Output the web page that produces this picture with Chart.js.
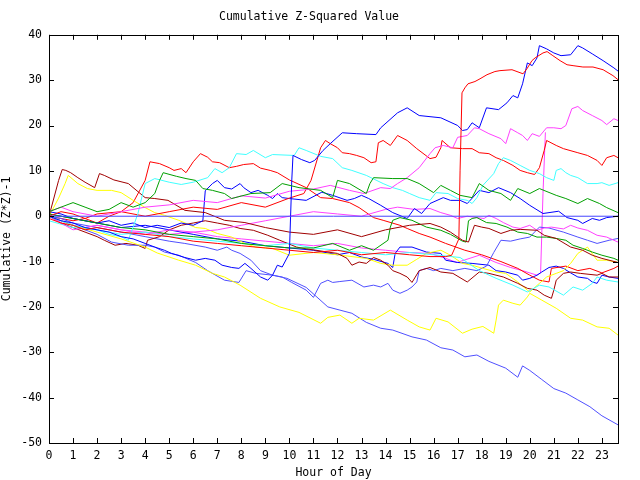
<!DOCTYPE html>
<html>
<head>
<meta charset="utf-8">
<script src="https://cdn.jsdelivr.net/npm/chart.js@4.4.0/dist/chart.umd.min.js"></script>
<style>
  html, body { margin: 0; padding: 0; background: #fff; }
  #wrap { width: 640px; height: 480px; }
</style>
</head>
<body>
<div id="wrap"><canvas id="chart" width="640" height="480"></canvas></div>
<script>
// axis setup
const xMax = 23.67;
const yTicks = [40, 30, 20, 10, 0, -10, -20, -30, -40, -50];
const hourTicks = [0,1,2,3,4,5,6,7,8,9,10,11,12,13,14,15,16,17,18,19,20,21,22,23];

// series, [hour, value]
const blueA = [[0,0],[0.5,-1],[1,-1.5],[1.5,-2.5],[2,-3],[2.5,-3.5],[3,-4.5],[3.5,-5],[4,-6],[4.4,-6.8],[4.8,-7.5],[5.1,-8.2],[5.65,-9.1],[6.1,-9.7],[6.5,-9.3],[6.9,-9.7],[7.2,-10.8],[7.6,-11.3],[7.9,-11.5],[8.15,-10.4],[8.4,-11.5],[8.8,-13.4],[9.1,-14.1],[9.3,-13],[9.5,-10.8],[9.7,-11.2],[10,-8.2],[10.05,0],[10.1,8],[10.15,13.4],[10.5,12.5],[10.85,11.8],[11.05,12.3],[11.4,14.5],[11.7,16],[12.2,18.4],[12.8,18.2],[13.6,18],[13.8,19.5],[14.5,22.8],[14.9,23.9],[15.4,22.2],[16.3,21.7],[17,20],[17.2,18.9],[17.4,19.1],[17.6,20.6],[17.9,19.5],[18.2,23.9],[18.7,23.5],[19.05,25],[19.3,26.6],[19.5,26.1],[19.7,29.2],[19.9,33.8],[20.1,33.2],[20.3,34.9],[20.4,37.6],[20.7,36.9],[21,36],[21.3,35.4],[21.7,35.6],[22,37.6],[22.2,37.1],[22.6,35.8],[23.05,34.3],[23.5,32.7],[23.67,32]];
const redA = [[0,-0.5],[0.5,-1.5],[1,-2],[1.5,-3],[2,-2.5],[3,-3.5],[4,-4],[5,-4.5],[6,-5.5],[7,-6],[8,-6.5],[9,-7],[10,-7.5],[11,-8],[12,-7.5],[13,-8.5],[14,-8],[15,-8.5],[15.85,-8.9],[16.5,-8.9],[16.75,-8.6],[17.05,-5],[17.1,10],[17.18,27.2],[17.3,28.3],[17.43,29.2],[17.72,29.7],[17.93,30.3],[18.22,31.2],[18.55,31.9],[18.76,32.1],[19.26,32.3],[19.72,31.4],[19.88,32.5],[20.09,34.3],[20.22,34.9],[20.55,36],[20.72,36.3],[20.96,35.4],[21.26,34.3],[21.55,33.4],[21.8,33.2],[22.21,32.9],[22.63,32.9],[23.05,32.3],[23.46,31],[23.67,30.1]];
const magentaA = [[0,1],[0.5,2],[1,1],[2,0],[3,1],[4,2],[5,2.5],[6,3.5],[7,3],[8,4.5],[9,4],[10,5.5],[11,6],[11.7,6.8],[12.5,5.7],[13.1,5],[13.8,6.3],[14.2,6.1],[14.5,7.2],[14.9,8.5],[15.4,10.7],[15.85,13.8],[16.06,15.1],[16.4,15.6],[16.8,15.1],[17,17.4],[17.4,17.8],[17.7,19.5],[17.9,19.3],[18.3,18.2],[18.8,17.1],[19,16],[19.2,19.3],[19.5,18.4],[19.7,17.8],[19.9,16.7],[20.1,18.2],[20.4,17.6],[20.7,19.5],[21,19.5],[21.3,19.3],[21.5,20],[21.75,23.7],[22,24.2],[22.2,23.3],[22.6,22.2],[23,21.1],[23.2,20.2],[23.5,21.5],[23.67,21.1]];
const magentaC = [[0,0],[0.5,-1],[1,-2],[1.5,-2.5],[2,-2],[3,-3],[4,-3.5],[5,-4],[6,-3.5],[7,-4.5],[8,-5],[9,-5.5],[10,-6],[11,-6.5],[12,-6],[13,-7],[14,-7.5],[15,-8],[15.85,-8.2],[16.4,-9.1],[16.97,-10.2],[17.9,-8.6],[18.6,-10.2],[19.2,-11.3],[19.7,-12],[20.3,-13],[20.45,-12.5],[20.55,5],[20.65,18.5]];
const redB = [[0,0],[0.5,1],[1,0.5],[1.5,-0.5],[2,0.5],[3,1],[4,0],[5,1],[6,2],[7,1.5],[8,3],[9,2],[10,4],[10.6,5],[10.9,7.9],[11.3,15.1],[11.5,16.7],[11.7,16],[12,15.1],[12.2,14],[12.5,13.8],[12.8,13.4],[13.1,12.9],[13.4,11.8],[13.6,12],[13.7,16.2],[13.9,16.7],[14.2,15.6],[14.5,17.8],[14.9,16.7],[15.3,14.9],[15.85,12.7],[16.1,13],[16.3,15.1],[16.35,16.7],[16.7,15.1],[17.2,14.9],[17.6,14.9],[17.9,14],[18.3,13.8],[18.6,12.9],[18.9,12.3],[19.3,11.2],[19.6,10.1],[19.9,9.6],[20.2,9.2],[20.4,10.7],[20.6,14.5],[20.7,16.7],[21.1,15.6],[21.4,14.9],[22,14],[22.4,13.4],[22.8,12.3],[23,11.2],[23.2,12.9],[23.5,13.4],[23.67,12.9]];
const redX = [[0,0],[0.5,-0.5],[1,-1],[1.5,-0.5],[2,-1.5],[2.5,0],[3,1],[3.5,3],[4,7.9],[4.2,12],[4.6,11.6],[5,10.7],[5.2,10.1],[5.5,10.5],[5.7,9.6],[6,12],[6.3,13.8],[6.6,13],[6.8,12],[7.1,11.8],[7.5,10.7],[7.8,11],[8.1,11.4],[8.5,11.6],[8.8,10.6],[9.2,10.1],[9.5,9.6],[10,8],[10.7,6.3],[11.3,4.1],[11.8,3.9],[12.5,3],[12.9,1.9],[13.5,-0.3],[13.9,-0.9],[14.6,-2],[14.9,-2.7],[15.4,-3.8],[15.85,-4.6],[16.5,-6],[17.3,-7.5],[18,-8.5],[18.8,-10],[19.5,-11.5],[20,-13],[20.4,-14.1],[20.8,-14.5],[20.9,-11.5],[21.5,-11],[22,-12],[22.5,-11.5],[23,-12.5],[23.5,-11.5],[23.67,-11]];
const cyanA = [[0,0],[0.5,-1],[1,-2],[1.5,-2.5],[2,-3],[2.5,-4],[3,-4.5],[3.3,-5.3],[3.7,0.6],[4,7.2],[4.4,8.3],[5,7.5],[5.5,7],[6,7.5],[6.6,8.5],[6.9,10.5],[7.2,9.6],[7.5,10.7],[7.8,13.8],[8.2,13.6],[8.5,14.5],[9,12.9],[9.3,13.6],[10.2,13.4],[10.4,15.1],[10.7,14.5],[11.3,13.2],[11.8,12.7],[12.2,10.7],[12.6,10.1],[13.2,9],[13.9,7.2],[14.3,6.3],[14.7,5.7],[15,5],[15.4,4.1],[15.85,3.5],[16.1,5.2],[16.6,5],[17,3.9],[17.4,3.5],[17.6,2.8],[17.8,4.1],[18.05,6.8],[18.5,9.4],[18.7,11.6],[18.9,12.9],[19.2,12.3],[19.6,11.2],[20,10.1],[20.4,9.4],[20.7,8.5],[21,7.9],[21.1,10.1],[21.3,10.5],[21.5,9.6],[21.7,9],[22,8.5],[22.4,7.2],[22.8,7.2],[23,7.4],[23.3,6.8],[23.67,7.4]];
const greenA = [[0,1],[0.5,2],[1,3],[1.5,2],[2,1],[2.5,1.5],[3,3],[3.5,2],[4,3],[4.4,5],[4.6,7.9],[4.75,9.6],[5.3,8.8],[5.7,8.3],[6.1,7.9],[6.4,6.1],[6.8,5.7],[7.3,5],[7.6,3.9],[8.4,5],[9.2,5.2],[9.7,7.2],[10.4,6.3],[11.3,5.7],[11.8,4.1],[12,7.9],[12.5,7.2],[13.2,5],[13.35,7.2],[13.5,8.5],[14.3,8.3],[14.9,8.3],[15.4,7.2],[16,5.2],[16.3,6.8],[16.7,5.7],[17.1,4.6],[17.6,4.1],[17.9,7.2],[18.3,5.7],[18.8,5],[19.2,3.5],[19.5,6.1],[20,5],[20.4,6.1],[21.1,4.6],[21.5,3.9],[22,2.8],[22.4,3.9],[22.9,2.8],[23.2,1.9],[23.67,0.8]];
const blueB = [[0,1],[0.5,0.5],[1,-0.5],[1.5,-1],[2,-1.5],[2.5,-1],[3,-2],[3.5,-1.5],[4,-2.5],[4.5,-2],[5,-2.5],[5.5,-1.5],[6,-2],[6.4,-1],[6.5,5.6],[6.8,7.2],[7,7.9],[7.3,6.3],[7.6,6],[7.95,7.2],[8.1,6.3],[8.4,5.2],[8.7,5.7],[9.1,4.6],[9.3,3.9],[9.5,5],[9.7,4.1],[10,3.9],[10.7,3.5],[11.35,5.3],[11.8,4.6],[12.4,3.5],[12.7,3.9],[13,4.6],[13.3,3.9],[13.8,2.4],[14.3,0.8],[14.9,-0.5],[15.2,1.7],[15.5,0.6],[15.85,2.8],[16.4,4.1],[16.7,3.5],[17.1,3.5],[17.4,2.8],[17.9,5.7],[18.3,5.2],[18.7,6.3],[19.2,5.2],[19.6,3.9],[20,2.4],[20.55,0.6],[21.2,1.1],[21.55,-0.3],[22,-0.9],[22.2,-1.6],[22.6,-0.5],[22.9,-0.9],[23.2,-0.3],[23.67,0]];
const magentaB = [[0,0],[0.5,-1.5],[1,-3],[1.5,-2.5],[2,-2],[3,-3],[4,-4],[5,-3],[6,-3.5],[7,-3],[8,-2],[9,-1],[10,0],[11,1],[12,0.5],[13,0],[14,1.5],[14.5,2],[15.2,1.5],[15.85,1.7],[16.3,0.8],[16.7,0.2],[17,-0.5],[17.4,0],[17.8,-0.3],[18.1,-0.5],[18.3,0.2],[18.6,-0.5],[18.9,-1.4],[19.3,-2.4],[19.6,-2.7],[20,-2],[20.3,-3.1],[20.6,-2.6],[20.9,-2.4],[21.4,-2.8],[21.7,-2],[22,-2.6],[22.4,-3.1],[22.8,-4.2],[23.2,-4.6],[23.67,-5.7]];
const yellowA = [[0,0],[0.5,-1],[1,-2],[2,-3.5],[3,-5],[4,-6.8],[4.5,-8.1],[5.4,-9.7],[6.1,-10.8],[6.8,-12.6],[7.3,-13.4],[7.95,-15.2],[8.8,-18.1],[9.6,-20],[10.4,-21.2],[11.3,-23.6],[11.6,-22.3],[12.1,-21.8],[12.6,-23.6],[12.9,-22.5],[13.5,-22.9],[14.2,-20.7],[14.9,-22.9],[15.4,-24.4],[15.85,-25.1],[16.1,-22.5],[16.6,-23.3],[17.2,-25.8],[17.6,-24.9],[18.05,-24.3],[18.5,-25.8],[18.6,-22.9],[18.7,-19.6],[18.9,-18.5],[19.3,-19.2],[19.6,-19.6],[19.9,-17.8],[20,-17],[20.5,-18.5],[21.1,-20.3],[21.7,-22.5],[22.2,-22.9],[22.8,-24.4],[23.3,-24.7],[23.67,-26.2]];
const lightblueA = [[0,0],[1,-2],[2,-4],[2.6,-5.7],[3.3,-6.4],[4,-6.4],[4.4,-6.8],[4.8,-7.9],[5.4,-8.6],[6.1,-10.2],[6.6,-12],[7.3,-14.1],[7.9,-14.6],[8.2,-12],[8.6,-12.6],[9.3,-13],[9.9,-13.7],[10.7,-15.7],[11.6,-20],[12.1,-20.7],[12.6,-21.4],[13.2,-23.4],[13.8,-24.7],[14.3,-25.1],[15.1,-26.6],[15.7,-27.3],[16.3,-29],[16.8,-29.5],[17.3,-31],[17.8,-30.6],[18.3,-32],[19,-33.5],[19.5,-35.5],[19.7,-33],[20,-34],[20.5,-36],[21,-38],[21.5,-39],[22,-40.5],[22.5,-42],[23,-44],[23.67,-46]];
const darkredA = [[0,0],[0.4,7.9],[0.55,10.3],[0.7,10.1],[0.9,9.6],[1.2,8.5],[1.5,7.5],[1.9,6.3],[2.1,9.4],[2.3,9],[2.7,8],[3.3,7.2],[4,4.1],[4.4,3.9],[4.95,3.5],[5.65,1.3],[6.5,0.8],[7.3,-0.9],[8.15,-1.4],[9,-2.5],[10,-3.5],[11,-4],[12,-3],[13,-4.5],[14,-3],[15,-2],[15.85,-1.6],[16.3,-2.4],[16.7,-3.5],[17.2,-5.3],[17.45,-5.7],[17.7,-2],[18,-2.4],[18.3,-2.7],[18.8,-3.8],[19.2,-3.1],[19.6,-2.9],[20.3,-3.1],[20.6,-4.2],[21.1,-4.9],[21.7,-6.8],[22.2,-7.5],[22.6,-8.6],[23,-9.3],[23.67,-10.2]];
const greenB = [[0,0.5],[1,-0.5],[2,-1.5],[3,-2.5],[4,-3],[5,-4],[6,-4.5],[7,-5],[8,-6],[9,-6.5],[10,-7],[11,-7],[11.8,-6],[12.5,-7.5],[13,-6.5],[13.5,-7.5],[14.1,-5.3],[14.2,-2.4],[14.3,-0.9],[14.6,-0.3],[15.1,-0.9],[15.7,-2.4],[16.3,-3.1],[16.7,-4],[17.2,-5.5],[17.35,-5.7],[17.45,-1],[17.6,-0.5],[17.8,-0.3],[18.2,-1.4],[18.6,-1.6],[19.05,-2.4],[19.5,-3.5],[19.9,-3.8],[20.3,-4.6],[20.7,-4.6],[21.1,-4.9],[21.5,-5.3],[21.8,-6.4],[22.2,-7.1],[22.6,-7.9],[23,-8.6],[23.5,-9.3],[23.67,-9.7]];
const cyanB = [[0,-1],[1,-2.5],[2,-3],[3,-4],[4,-3.5],[5,-4.5],[6,-5],[7,-5.5],[8,-6],[9,-6.5],[10,-6],[11,-7],[12,-7.5],[13,-8],[14,-8.5],[15,-8],[16,-8.5],[17.1,-9.1],[17.9,-12],[18.6,-13.7],[19.3,-15.2],[19.9,-16.7],[20.4,-15.2],[20.8,-15.6],[21.4,-17.4],[21.8,-15.6],[22.2,-16.3],[22.6,-14.8],[22.8,-13.4],[23.2,-14.1],[23.67,-14.5]];
const darkredB = [[0,0],[0.5,-1.5],[1,-2.5],[1.5,-3.5],[2,-4.5],[2.3,-5.3],[2.75,-6.4],[3.2,-6],[3.7,-6.4],[4,-7.1],[4.1,-5.3],[4.6,-4.5],[5,-3],[5.5,-2],[6,-1.5],[6.5,-1],[7,-1.5],[7.5,-2],[7.95,-2.7],[8.5,-3.1],[9.1,-4.2],[9.6,-5.3],[10.3,-6.8],[10.7,-7.2],[11.1,-7.5],[11.6,-7.9],[12,-8.2],[12.4,-9.3],[12.6,-10.8],[12.9,-10.1],[13.2,-10.4],[13.5,-9.1],[13.8,-9.7],[14.1,-10.8],[14.3,-12],[14.6,-12.6],[14.9,-13.4],[15.1,-14.6],[15.4,-12],[15.85,-11.3],[16.3,-12.3],[16.8,-12.6],[17.4,-14.5],[17.9,-12.3],[18.3,-12.6],[18.9,-13.4],[19.5,-14.8],[19.9,-15.9],[20.3,-16.3],[20.6,-17.4],[20.9,-18.1],[21,-16.3],[21.1,-14.1],[21.4,-12.6],[21.7,-12.3],[22.1,-12.6],[22.8,-13],[23,-12.6],[23.3,-13.4],[23.67,-13.4]];
const yellowB = [[0,0],[0.4,4],[0.67,7.2],[0.8,9],[1.2,7.2],[1.6,6.1],[2,5.7],[2.6,5.7],[3,5.2],[3.5,3.5],[4,1.9],[4.4,0.8],[4.8,0.2],[5.4,-0.9],[6.1,-2.5],[6.5,-2.7],[7,-3.8],[7.6,-4.6],[8.15,-6],[8.6,-6.8],[9.3,-7.1],[10,-8.6],[11,-8],[12,-8.5],[13.2,-9.3],[13.8,-10.4],[14.3,-10.8],[14.9,-10.8],[15.3,-9.5],[15.7,-8.2],[16.3,-7.5],[16.7,-8.6],[17.2,-10.4],[17.6,-10.8],[18.05,-11.5],[18.6,-12.3],[19,-12.6],[19.5,-14.5],[19.9,-16.3],[20,-16.7],[20.4,-14.8],[20.7,-13.4],[21.1,-12.6],[21.4,-12],[21.7,-10.4],[22,-8.2],[22.4,-6.8],[22.8,-9.7],[23.2,-9.7],[23.67,-10.2]];
const blueC = [[0,0.5],[1,-0.5],[2,-1.5],[3,-2.5],[4,-2],[5,-3],[6,-4],[7,-5],[8,-5.5],[9,-6.5],[10,-7],[11,-7.5],[12,-8.5],[12.5,-8],[13,-9],[13.5,-9.5],[14.1,-10.4],[14.3,-11.3],[14.4,-8.2],[14.6,-6.8],[15.1,-6.8],[15.7,-7.9],[16.3,-8.2],[16.5,-9.7],[17,-10.2],[17.6,-10.4],[18.3,-10.8],[18.6,-12],[19,-12.3],[19.5,-13],[19.7,-14.1],[20,-13.7],[20.3,-13],[20.5,-12.3],[20.8,-11.3],[21.1,-11],[21.4,-11.5],[21.7,-12.5],[22,-13.4],[22.4,-13.7],[22.6,-14.5],[22.8,-14.8],[23,-13],[23.3,-13.4],[23.67,-13.7]];
const lightblueB = [[0,0],[0.5,-0.5],[1,-1.5],[2,-2.5],[3,-3.5],[4,-4.5],[5,-5.5],[5.65,-6],[6.5,-6.8],[7,-7.5],[7.4,-6.8],[7.6,-7.5],[7.95,-8.2],[8.4,-9.7],[8.8,-12],[9.3,-13],[9.7,-13.4],[10.1,-14.6],[10.7,-16.3],[11,-17.9],[11.3,-14.8],[11.6,-14.1],[11.8,-14.6],[12.1,-14.4],[12.6,-14.1],[13.1,-15.6],[13.5,-15.2],[13.8,-15.6],[14.1,-14.8],[14.3,-16.3],[14.6,-17],[14.9,-16.3],[15.1,-15.6],[15.3,-14.5],[15.4,-12],[15.7,-11.5],[16,-12],[16.3,-11.5],[16.8,-12],[17.3,-11.5],[17.8,-12],[18.2,-11],[18.5,-8],[18.8,-5.3],[19.2,-5.5],[19.6,-5],[20,-4.6],[20.4,-2.4],[20.8,-2.6],[21.4,-3.5],[22,-4.6],[22.4,-5.3],[22.8,-6],[23.3,-5.3],[23.67,-4.9]];
const zeroLine = [[0,0],[23.67,0]];

const seriesList = [
  { data: zeroLine, color: '#4444ff' },
  { data: redA, color: '#ff0000' },
  { data: greenA, color: '#00a000' },
  { data: blueA, color: '#0000ff' },
  { data: magentaA, color: '#ff40ff' },
  { data: cyanA, color: '#40ffff' },
  { data: darkredA, color: '#a00000' },
  { data: yellowA, color: '#ffff00' },
  { data: lightblueA, color: '#5050ff' },
  { data: redB, color: '#ff0000' },
  { data: greenB, color: '#00a000' },
  { data: blueB, color: '#0000ff' },
  { data: magentaB, color: '#ff40ff' },
  { data: cyanB, color: '#40ffff' },
  { data: darkredB, color: '#a00000' },
  { data: yellowB, color: '#ffff00' },
  { data: lightblueB, color: '#5050ff' },
  { data: redX, color: '#ff0000' },
  { data: blueC, color: '#0000ff' },
  { data: magentaC, color: '#ff40ff' }
];

const FONT = "'DejaVu Sans Mono', monospace";

// frame + inward ticks on all four sides, like the original plot
const framePlugin = {
  id: 'frame',
  afterDraw(chart) {
    const ctx = chart.ctx;
    const a = chart.chartArea;
    const xs = chart.scales.x, ys = chart.scales.y;
    ctx.save();
    ctx.strokeStyle = '#000';
    ctx.lineWidth = 1;
    ctx.strokeRect(Math.round(a.left) + 0.5, Math.round(a.top) + 0.5, Math.round(a.right - a.left), Math.round(a.bottom - a.top));
    ctx.beginPath();
    hourTicks.forEach(h => {
      const px = Math.round(xs.getPixelForValue(h)) + 0.5;
      ctx.moveTo(px, a.bottom); ctx.lineTo(px, a.bottom - 5);
      ctx.moveTo(px, a.top); ctx.lineTo(px, a.top + 5);
    });
    yTicks.forEach(v => {
      const py = Math.round(ys.getPixelForValue(v)) + 0.5;
      ctx.moveTo(a.left, py); ctx.lineTo(a.left + 5, py);
      ctx.moveTo(a.right, py); ctx.lineTo(a.right - 5, py);
    });
    ctx.stroke();
    ctx.restore();
  }
};

new Chart(document.getElementById('chart'), {
  type: 'line',
  data: {
    datasets: seriesList.map(s => ({
      data: s.data.map(p => ({ x: p[0], y: p[1] })),
      borderColor: s.color,
      borderWidth: 1,
      pointRadius: 0,
      tension: 0,
      fill: false
    }))
  },
  options: {
    responsive: false,
    animation: false,
    events: [],
    layout: { padding: { left: 0, right: 22, top: 0, bottom: 0 } },
    plugins: {
      legend: { display: false },
      tooltip: { enabled: false },
      title: {
        display: true,
        text: 'Cumulative Z-Squared Value',
        color: '#000',
        font: { family: FONT, size: 11.5, weight: 'normal' },
        padding: { top: 10, bottom: 11 }
      }
    },
    scales: {
      x: {
        type: 'linear',
        min: 0,
        max: xMax,
        afterBuildTicks: s => { s.ticks = hourTicks.map(v => ({ value: v })); },
        afterFit: s => { s.height = 37; },
        grid: { display: false, drawTicks: false },
        border: { display: false },
        ticks: { color: '#000', font: { family: FONT, size: 11.5 }, padding: 6, maxRotation: 0, autoSkip: false },
        title: { display: true, text: 'Hour of Day', color: '#000', font: { family: FONT, size: 11.5 }, padding: { top: 0, bottom: 0 } }
      },
      y: {
        min: -50,
        max: 40,
        afterBuildTicks: s => { s.ticks = yTicks.map(v => ({ value: v })); },
        afterFit: s => { s.width = 49; },
        grid: { display: false, drawTicks: false },
        border: { display: false },
        ticks: { color: '#000', font: { family: FONT, size: 11.5 }, padding: 7 },
        title: { display: true, text: 'Cumulative (Z*Z)-1', color: '#000', font: { family: FONT, size: 11.5 }, padding: { top: 0, bottom: 2 } }
      }
    }
  },
  plugins: [framePlugin]
});
</script>
</body>
</html>
